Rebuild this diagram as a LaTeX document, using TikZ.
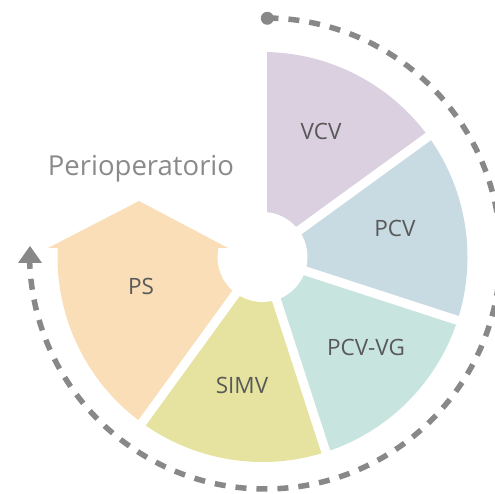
\documentclass[tikz,border=0pt]{standalone}
\usepackage{fontspec}
\setmainfont{Open Sans}
\definecolor{vcvc}{HTML}{DBD0E0}
\definecolor{pcvc}{HTML}{C8DAE2}
\definecolor{vgc}{HTML}{C8E4DE}
\definecolor{simvc}{HTML}{E5E39F}
\definecolor{psc}{HTML}{F9DEB8}
\definecolor{dashc}{HTML}{888888}
\definecolor{labc}{HTML}{595959}
\definecolor{titc}{HTML}{8A8A8A}
\begin{document}
\begin{tikzpicture}[x=1pt,y=1pt,
  lab/.style={anchor=base,inner sep=0pt,text=labc,font=\fontsize{22.5}{27}\selectfont},
  tit/.style={anchor=base,inner sep=0pt,text=titc,font=\fontsize{27.5}{33}\selectfont},
  gapline/.style={white,line width=9pt},
  ring/.style={dashc,line width=5.5pt,dash pattern=on 11pt off 10pt}]
\useasboundingbox (0,0) rectangle (495,494);
\coordinate (C) at (262.5,237);
\def\R{205}
\fill[vcvc] (C) -- ++(90:\R) arc[start angle=90,end angle=36,radius=\R] -- cycle;
\fill[pcvc] (C) -- ++(36:\R) arc[start angle=36,end angle=-18,radius=\R] -- cycle;
\fill[vgc] (C) -- ++(-18:\R) arc[start angle=-18,end angle=-72,radius=\R] -- cycle;
\fill[simvc] (C) -- ++(-72:\R) arc[start angle=-72,end angle=-126,radius=\R] -- cycle;
\fill[psc] (C) -- ++(-126:\R) arc[start angle=-126,end angle=-182.52,radius=\R] -- (262.5,246) -- cycle;
\foreach \a in {90,36,-18,-72,-126} \draw[gapline] (C) -- ++(\a:\R+10);
\fill[white] (C) circle[radius=45];
\fill[psc] (48,246) -- (228,246) -- (139,293) -- cycle;
% dashed ring
\coordinate (D) at (265,240.5);
\draw[ring] (D) ++(89.4:235.5) arc[start angle=89.4,end angle=-177.7,radius=235.5];
\fill[dashc] (267.3,475.7) circle[radius=6.5];
\fill[dashc] (30,248) -- (18,231) -- (42,231) -- cycle;
% labels
\node[tit] (title) at (141,318) {Perioperatorio};
\node[lab] (vcv) at (321,354.7) {VCV};
\node[lab] (pcv) at (395,257) {PCV};
\node[lab] (pcvvg) at (366,138) {PCV-VG};
\node[lab] (simv) at (242,100) {SIMV};
\node[lab] (ps) at (141,199) {PS};
\end{tikzpicture}
\end{document}
